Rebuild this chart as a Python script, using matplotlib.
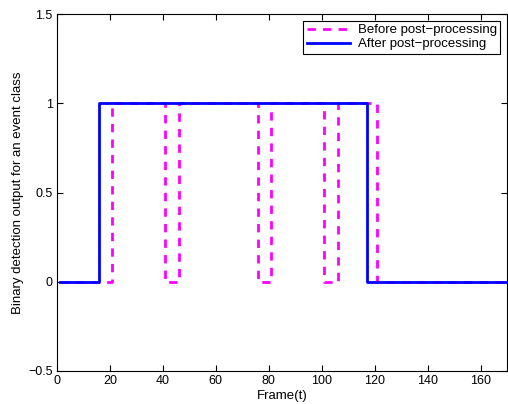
import numpy as np
import matplotlib
matplotlib.use("Agg")
import matplotlib.pyplot as plt

# frames and on-intervals [start, end)
frames = np.arange(1, 171)
before_on = [(21, 41), (46, 76), (81, 101), (106, 121)]
after_on = [(16, 117)]

def to_binary(intervals):
    out = np.zeros(len(frames))
    for a, b in intervals:
        out[(frames >= a) & (frames < b)] = 1
    return out

before = to_binary(before_on)
after = to_binary(after_on)

plt.rcParams['font.family'] = ['Liberation Sans', 'DejaVu Sans']
plt.rcParams['font.size'] = 9

fig = plt.figure(figsize=(5.08, 4.04), dpi=100)
ax = fig.add_axes([0.112, 0.082, 0.886, 0.883])

ax.plot(frames, before, color='#ff00ff', ls='--', lw=2, dashes=(3, 2.6),
        drawstyle='steps-post', label='Before post\u2212processing')
ax.plot(frames, after, color='#0000ff', lw=2, drawstyle='steps-post',
        label='After post\u2212processing')

ax.set_xlim(0, 170)
ax.set_ylim(-0.5, 1.5)
ax.set_xticks(np.arange(0, 161, 20))
ax.set_yticks([-0.5, 0, 0.5, 1, 1.5])
ax.set_yticklabels(['\u22120.5', '0', '0.5', '1', '1.5'])
ax.tick_params(direction='in', top=True, right=True, length=4, width=0.8,
               labelsize=9, pad=3)
for s in ax.spines.values():
    s.set_linewidth(0.8)

ax.set_xlabel('Frame(t)', fontsize=9.5, labelpad=2)
ax.set_ylabel('Binary detection output for an event class', fontsize=9.5,
              labelpad=3)

leg = ax.legend(loc='upper right', fancybox=False, edgecolor='k',
                framealpha=1, borderpad=0.25, handlelength=3.3,
                labelspacing=0.15, borderaxespad=0.5, fontsize=9.5,
                handletextpad=0.6)
leg.get_frame().set_linewidth(0.8)

fig.savefig('out.png', dpi=100)
